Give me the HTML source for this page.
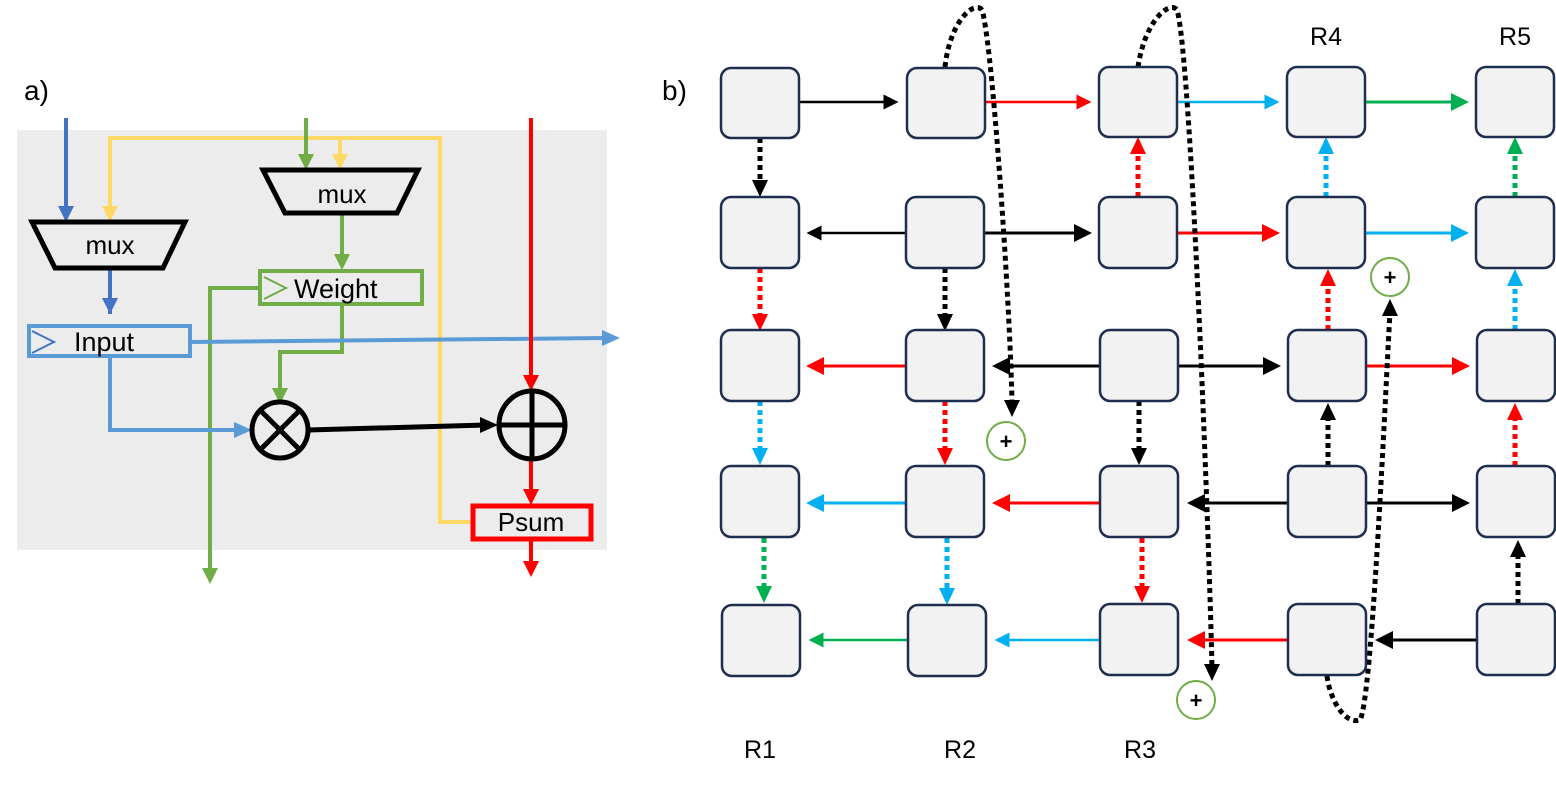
<!DOCTYPE html>
<html><head><meta charset="utf-8"><style>
html,body{margin:0;padding:0;background:#fff;}
svg{display:block;font-family:"Liberation Sans",sans-serif;}
</style></head><body>
<svg width="1556" height="789" viewBox="0 0 1556 789" xmlns="http://www.w3.org/2000/svg">
<defs>
<marker id="mk" markerWidth="6" markerHeight="6" refX="5" refY="3" orient="auto" markerUnits="strokeWidth"><path d="M0,0L6,3L0,6z" fill="context-stroke"/></marker>
</defs>
<!-- part a -->
<text x="24" y="100" font-size="28">a)</text>
<rect x="17" y="130" width="590" height="420" fill="#ececec"/>
<g fill="none" stroke-width="4">
<path d="M110,222V138H440V522H472" stroke="#ffd966"/>
<path d="M340,138V160" stroke="#ffd966"/>
<path d="M66,118V212" stroke="#4472c4"/>
<path d="M110,268V314" stroke="#4472c4"/>
<path d="M306,118V160" stroke="#70ad47"/>
<path d="M342,213V262" stroke="#70ad47"/>
<path d="M260,288H210V572" stroke="#70ad47"/>
<path d="M342,304V352H280V394" stroke="#70ad47"/>
<path d="M190,342L606,338" stroke="#5b9bd5"/>
<path d="M110,356V430H240" stroke="#5b9bd5"/>
<path d="M308,430L486,425" stroke="#000" stroke-width="5"/>
<path d="M531,118V380" stroke="#f00"/>
<path d="M531,459V496" stroke="#f00"/>
<path d="M531,540V566" stroke="#f00"/>
</g>
<g>
<path d="M58,206h16l-8,16z" fill="#4472c4"/>
<path d="M102,206h16l-8,16z" fill="#ffd966"/>
<path d="M102,298h16l-8,16z" fill="#4472c4"/>
<path d="M298,154h16l-8,16z" fill="#70ad47"/>
<path d="M332,154h16l-8,16z" fill="#ffd966"/>
<path d="M334,254h16l-8,16z" fill="#70ad47"/>
<path d="M202,568h16l-8,16z" fill="#70ad47"/>
<path d="M272,388h16l-8,16z" fill="#70ad47"/>
<path d="M602,330l18,8l-18,8z" fill="#5b9bd5"/>
<path d="M234,422l18,8l-18,8z" fill="#5b9bd5"/>
<path d="M480,417l18,8l-18,8z" fill="#000"/>
<path d="M523,375h16l-8,16z" fill="#f00"/>
<path d="M523,489h16l-8,16z" fill="#f00"/>
<path d="M523,561h16l-8,16z" fill="#f00"/>
</g>
<path d="M32,222H185L163,268H55Z" fill="#ececec" stroke="#000" stroke-width="5"/>
<text x="110" y="254" font-size="26" text-anchor="middle">mux</text>
<path d="M263,170H418L397,213H285Z" fill="#ececec" stroke="#000" stroke-width="5"/>
<text x="342" y="203" font-size="26" text-anchor="middle">mux</text>
<rect x="260" y="271" width="162" height="33" fill="none" stroke="#70ad47" stroke-width="4"/>
<path d="M264,277L286,288L264,299" fill="none" stroke="#70ad47" stroke-width="2"/>
<text x="294" y="298" font-size="27">Weight</text>
<rect x="29" y="326" width="161" height="30" fill="none" stroke="#5b9bd5" stroke-width="4"/>
<path d="M32,331L54,342L32,353" fill="none" stroke="#4472c4" stroke-width="2"/>
<text x="74" y="351" font-size="27">Input</text>
<circle cx="280" cy="430" r="28" fill="none" stroke="#000" stroke-width="5"/>
<path d="M260,410L300,450M300,410L260,450" stroke="#000" stroke-width="5"/>
<ellipse cx="532" cy="425" rx="33" ry="34" fill="none" stroke="#000" stroke-width="5"/>
<path d="M499,425H565M532,391V459" stroke="#000" stroke-width="5"/>
<rect x="473" y="506" width="118" height="33" fill="#ececec" stroke="#f00" stroke-width="5"/>
<text x="531" y="531" font-size="26" text-anchor="middle">Psum</text>
<!-- part b -->
<text x="662" y="100" font-size="28">b)</text>
<g font-size="25" text-anchor="middle">
<text x="760" y="758">R1</text><text x="960" y="758">R2</text><text x="1140" y="758">R3</text>
<text x="1326" y="45">R4</text><text x="1515" y="45">R5</text>
</g>
<g fill="none" stroke-width="2.5">
<path d="M799,102H896" stroke="#000" marker-end="url(#mk)"/>
<path d="M986,102H1089" stroke="#f00" marker-end="url(#mk)"/>
<path d="M1177,102H1277" stroke="#00b0f0" marker-end="url(#mk)"/>
<path d="M1366,102H1466" stroke="#00b050" stroke-width="3" marker-end="url(#mk)"/>
<path d="M906,233H809" stroke="#000" marker-end="url(#mk)"/>
<path d="M985,233H1089" stroke="#000" stroke-width="3" marker-end="url(#mk)"/>
<path d="M1177,233H1277" stroke="#f00" stroke-width="3" marker-end="url(#mk)"/>
<path d="M1366,233H1466" stroke="#00b0f0" stroke-width="3" marker-end="url(#mk)"/>
<path d="M906,366H809" stroke="#f00" stroke-width="3" marker-end="url(#mk)"/>
<path d="M1100,366H995" stroke="#000" stroke-width="3" marker-end="url(#mk)"/>
<path d="M1178,366H1278" stroke="#000" stroke-width="3" marker-end="url(#mk)"/>
<path d="M1367,366H1467" stroke="#f00" stroke-width="3" marker-end="url(#mk)"/>
<path d="M906,503H809" stroke="#00b0f0" stroke-width="3" marker-end="url(#mk)"/>
<path d="M1100,503H995" stroke="#f00" stroke-width="3" marker-end="url(#mk)"/>
<path d="M1288,503H1190" stroke="#000" stroke-width="3" marker-end="url(#mk)"/>
<path d="M1367,503H1467" stroke="#000" stroke-width="3" marker-end="url(#mk)"/>
<path d="M908,640H811" stroke="#00b050" marker-end="url(#mk)"/>
<path d="M1100,640H997" stroke="#00b0f0" marker-end="url(#mk)"/>
<path d="M1288,640H1190" stroke="#f00" stroke-width="3" marker-end="url(#mk)"/>
<path d="M1478,640H1378" stroke="#000" stroke-width="3" marker-end="url(#mk)"/>
</g>
<g fill="none" stroke-width="5" stroke-dasharray="5,4">
<path d="M760,138V184" stroke="#000"/>
<path d="M760,268V318" stroke="#f00"/>
<path d="M760,401V452" stroke="#00b0f0"/>
<path d="M764,538V590" stroke="#00b050"/>
<path d="M945,268V318" stroke="#000"/>
<path d="M945,401V452" stroke="#f00"/>
<path d="M947,538V592" stroke="#00b0f0"/>
<path d="M1138,197V152" stroke="#f00"/>
<path d="M1139,401V452" stroke="#000"/>
<path d="M1142,538V590" stroke="#f00"/>
<path d="M1326,197V152" stroke="#00b0f0"/>
<path d="M1328,330V284" stroke="#f00"/>
<path d="M1328,466V418" stroke="#000"/>
<path d="M1515,197V152" stroke="#00b050"/>
<path d="M1515,330V284" stroke="#00b0f0"/>
<path d="M1515,466V418" stroke="#f00"/>
<path d="M1518,604V555" stroke="#000"/>
<path d="M945,67C950,20 975,0 982,10C992,40 1010,300 1012,404" stroke="#000"/>
<path d="M1138,67C1145,20 1170,0 1177,10C1190,50 1208,500 1212,668" stroke="#000"/>
<path d="M1327,676C1330,700 1345,725 1360,720C1372,700 1385,400 1390,312" stroke="#000"/>
</g>
<g>
<path d="M752,180h16l-8,17z"/><path d="M752,314h16l-8,17z" fill="#f00"/><path d="M752,448h16l-8,17z" fill="#00b0f0"/><path d="M756,586h16l-8,17z" fill="#00b050"/>
<path d="M937,314h16l-8,17z"/><path d="M937,448h16l-8,17z" fill="#f00"/><path d="M939,588h16l-8,17z" fill="#00b0f0"/>
<path d="M1130,154h16l-8,-17z" fill="#f00"/><path d="M1131,448h16l-8,17z"/><path d="M1134,586h16l-8,17z" fill="#f00"/>
<path d="M1318,154h16l-8,-17z" fill="#00b0f0"/><path d="M1320,286h16l-8,-17z" fill="#f00"/><path d="M1320,420h16l-8,-17z"/>
<path d="M1507,154h16l-8,-17z" fill="#00b050"/><path d="M1507,286h16l-8,-17z" fill="#00b0f0"/><path d="M1507,420h16l-8,-17z" fill="#f00"/><path d="M1510,557h16l-8,-17z"/>
<path d="M1004,400h16l-8,17z"/><path d="M1204,664h16l-8,17z"/><path d="M1382,316h16l-8,-17z"/>
</g>
<g fill="#fff" stroke="#70ad47" stroke-width="2">
<circle cx="1006" cy="441" r="19"/><circle cx="1196" cy="700" r="19"/><circle cx="1390" cy="277" r="19"/>
</g>
<g font-size="22" font-weight="bold" text-anchor="middle">
<text x="1006" y="449">+</text><text x="1196" y="708">+</text><text x="1390" y="285">+</text>
</g>
<g fill="#f2f2f2" stroke="#1f2d4f" stroke-width="2.5">
<rect x="721" y="68" width="78" height="70" rx="10"/><rect x="907" y="68" width="78" height="70" rx="10"/><rect x="1099" y="67" width="78" height="70" rx="10"/><rect x="1287" y="67" width="78" height="70" rx="10"/><rect x="1476" y="67" width="78" height="70" rx="10"/>
<rect x="721" y="197" width="78" height="71" rx="10"/><rect x="906" y="197" width="78" height="71" rx="10"/><rect x="1099" y="197" width="78" height="71" rx="10"/><rect x="1287" y="197" width="78" height="71" rx="10"/><rect x="1476" y="197" width="78" height="71" rx="10"/>
<rect x="721" y="330" width="78" height="71" rx="10"/><rect x="906" y="330" width="78" height="71" rx="10"/><rect x="1100" y="330" width="78" height="71" rx="10"/><rect x="1288" y="330" width="78" height="71" rx="10"/><rect x="1477" y="330" width="78" height="71" rx="10"/>
<rect x="721" y="466" width="78" height="71" rx="10"/><rect x="906" y="466" width="78" height="71" rx="10"/><rect x="1100" y="466" width="78" height="71" rx="10"/><rect x="1288" y="466" width="78" height="71" rx="10"/><rect x="1477" y="466" width="78" height="71" rx="10"/>
<rect x="722" y="605" width="78" height="71" rx="10"/><rect x="908" y="605" width="78" height="71" rx="10"/><rect x="1100" y="604" width="78" height="71" rx="10"/><rect x="1288" y="604" width="78" height="71" rx="10"/><rect x="1477" y="604" width="78" height="71" rx="10"/>
</g>
</svg>
</body></html>
